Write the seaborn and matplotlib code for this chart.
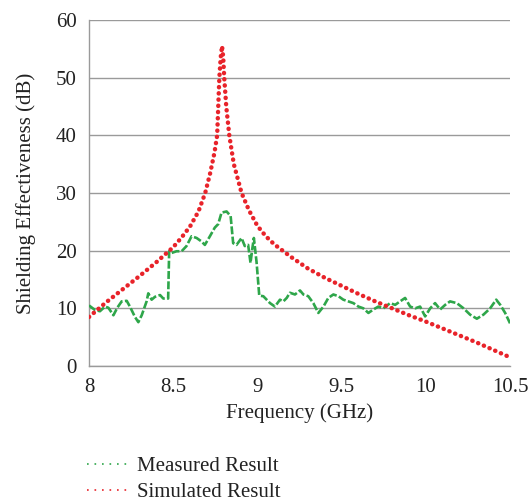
import matplotlib
matplotlib.use("Agg")
import matplotlib.pyplot as plt
from matplotlib.lines import Line2D
import seaborn as sns
import pandas as pd

# Simulated shielding effectiveness (GHz, dB)
sim_freq = [8.00, 8.10, 8.20, 8.30, 8.40, 8.50, 8.55, 8.60, 8.65, 8.69, 8.72,
            8.745, 8.761, 8.774, 8.782, 8.79, 8.797, 8.803, 8.815, 8.833, 8.86,
            8.906, 8.95, 9.00, 9.05, 9.10, 9.15, 9.20, 9.30, 9.40, 9.50, 9.60,
            9.70, 9.80, 9.90, 10.00, 10.10, 10.20, 10.30, 10.40, 10.50]
sim_se = [8.5, 11.0, 13.3, 15.6, 18.0, 20.6, 22.3, 24.2, 26.8, 30.0, 33.5,
          37.0, 40.0, 50.0, 53.5, 55.5, 53.5, 50.0, 45.0, 40.0, 35.0,
          30.0, 27.0, 24.3, 22.5, 21.1, 20.0, 18.9, 16.9, 15.3, 13.9, 12.5,
          11.2, 10.0, 8.8, 7.7, 6.5, 5.3, 4.1, 2.8, 1.5]

# Measured shielding effectiveness (GHz, dB)
meas_freq = [8.000, 8.036, 8.065, 8.095, 8.115, 8.145, 8.168, 8.194, 8.224,
             8.243, 8.273, 8.293, 8.313, 8.342, 8.352, 8.372, 8.392, 8.422,
             8.441, 8.470, 8.476, 8.490, 8.520, 8.550, 8.579, 8.609, 8.639,
             8.668, 8.688, 8.718, 8.747, 8.767, 8.787, 8.817, 8.841, 8.856,
             8.876, 8.906, 8.925, 8.945, 8.959, 8.971, 8.979, 8.995, 9.011,
             9.035, 9.075, 9.104, 9.134, 9.154, 9.174, 9.193, 9.223, 9.253,
             9.273, 9.302, 9.332, 9.362, 9.392, 9.421, 9.451, 9.481, 9.510,
             9.540, 9.570, 9.600, 9.629, 9.659, 9.689, 9.718, 9.748, 9.788,
             9.818, 9.847, 9.877, 9.907, 9.937, 9.966, 9.996, 10.026, 10.055,
             10.085, 10.115, 10.144, 10.184, 10.224, 10.263, 10.303, 10.342,
             10.382, 10.418, 10.442, 10.471, 10.500]
meas_se = [10.5, 9.7, 9.5, 10.3, 10.1, 8.8, 10.1, 11.2, 11.3,
           10.3, 8.5, 7.6, 8.8, 11.2, 12.6, 11.5, 12.0, 12.3,
           11.7, 11.7, 19.9, 19.6, 19.9, 19.9, 20.8, 22.5, 22.2,
           21.6, 21.0, 22.5, 24.0, 24.6, 26.6, 26.8, 26.0, 21.3,
           21.0, 22.2, 20.8, 21.0, 17.9, 20.6, 22.2, 18.0, 12.2,
           12.1, 10.9, 10.3, 11.5, 11.2, 11.8, 12.7, 12.4, 13.1,
           12.4, 12.1, 10.9, 9.2, 10.3, 11.8, 12.4, 12.1, 11.5,
           11.2, 10.9, 10.3, 10.0, 9.2, 9.8, 10.3, 10.0, 10.9,
           10.6, 11.2, 11.8, 10.3, 10.0, 10.3, 8.6, 10.0, 10.9,
           9.8, 10.6, 11.2, 10.9, 10.0, 8.9, 8.2, 8.9,
           10.0, 11.5, 10.6, 9.2, 7.4]

x_ticks = [8, 8.5, 9, 9.5, 10, 10.5]
x_tick_labels = ["8", "8.5", "9", "9.5", "10", "10.5"]
y_ticks = [0, 10, 20, 30, 40, 50, 60]

GREEN = "#2ea64a"
RED = "#e8232a"
GRAY = "#9a9a9a"
TEXT = "#222222"
FS = 15

sns.set_theme(style="white")
plt.rcParams["font.family"] = ["Liberation Serif", "DejaVu Serif"]

fig = plt.figure(figsize=(5.31, 5.01), dpi=100)
ax = fig.add_axes([0.1676, 0.2695, 0.7929, 0.6905])

ax.grid(axis="y", color=GRAY, linewidth=1.0)
ax.set_axisbelow(True)

meas_df = pd.DataFrame({"freq": meas_freq, "se": meas_se})
sim_df = pd.DataFrame({"freq": sim_freq, "se": sim_se})

sns.lineplot(data=meas_df, x="freq", y="se", ax=ax, color=GREEN,
             linewidth=1.9, linestyle=(0, (3.0, 0.9)), estimator=None,
             sort=False, zorder=3)
sns.lineplot(data=sim_df, x="freq", y="se", ax=ax, color=RED,
             linewidth=3.2, linestyle=(0, (0.05, 1.35)),
             dash_capstyle="round", estimator=None, sort=False, zorder=4)

ax.set_xlim(8, 10.5)
ax.set_ylim(0, 60)
ax.set_xticks(x_ticks)
ax.set_xticklabels(x_tick_labels)
ax.set_yticks(y_ticks)
ax.tick_params(axis="both", which="major", labelsize=FS, labelcolor=TEXT,
               color=GRAY, length=6, width=1.0, direction="out")
ax.tick_params(axis="y", pad=3)
ax.tick_params(axis="x", pad=3)

for side in ("top", "right"):
    ax.spines[side].set_visible(False)
for side in ("left", "bottom"):
    ax.spines[side].set_color(GRAY)
    ax.spines[side].set_linewidth(1.0)

ax.set_xlabel("Frequency (GHz)", fontsize=FS, color=TEXT, labelpad=4)
ax.set_ylabel("Shielding Effectiveness (dB)", fontsize=FS,
              color=TEXT, labelpad=14)

handles = [
    Line2D([], [], color=GREEN, linewidth=1.2, linestyle=(0, (1, 3.5))),
    Line2D([], [], color=RED, linewidth=1.2, linestyle=(0, (1, 3.5))),
]
fig.legend(handles, ["Measured Result", "Simulated Result"],
           loc="upper left", bbox_to_anchor=(0.163, 0.089), frameon=False,
           fontsize=FS, handlelength=1.95, handletextpad=0.45,
           labelspacing=0.3, borderaxespad=0, borderpad=0,
           labelcolor=TEXT)

fig.savefig("out.png", dpi=100)
